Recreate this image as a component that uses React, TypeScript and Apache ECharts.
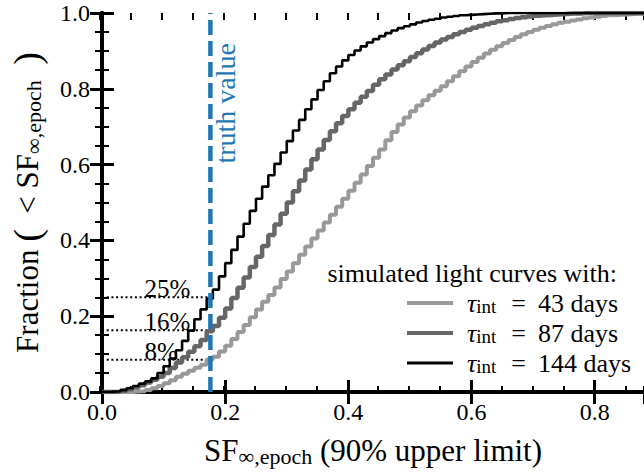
import React, { useEffect, useRef } from 'react';
import * as echarts from 'echarts';

// bin edges of the cumulative histograms (SF upper limit)
const binEdges = [
  0.00, 0.01, 0.02, 0.03, 0.04, 0.05, 0.06, 0.07, 0.08, 0.09,
  0.10, 0.11, 0.12, 0.13, 0.14, 0.15, 0.16, 0.17, 0.18, 0.19,
  0.20, 0.21, 0.22, 0.23, 0.24, 0.25, 0.26, 0.27, 0.28, 0.29,
  0.30, 0.31, 0.32, 0.33, 0.34, 0.35, 0.36, 0.37, 0.38, 0.39,
  0.40, 0.41, 0.42, 0.43, 0.44, 0.45, 0.46, 0.47, 0.48, 0.49,
  0.50, 0.51, 0.52, 0.53, 0.54, 0.55, 0.56, 0.57, 0.58, 0.59,
  0.60, 0.61, 0.62, 0.63, 0.64, 0.65, 0.66, 0.67, 0.68, 0.69,
  0.70, 0.71, 0.72, 0.73, 0.74, 0.75, 0.76, 0.77, 0.78, 0.79,
  0.80, 0.81, 0.82, 0.83, 0.84, 0.85, 0.86, 0.87, 0.88,
];

// tau_int = 43 days (light grey)
const cdf43 = [
  0.000, 0.000, 0.000, 0.000, 0.000, 0.001, 0.002, 0.005, 0.010, 0.016,
  0.023, 0.031, 0.040, 0.048, 0.056, 0.064, 0.072, 0.086, 0.093, 0.107,
  0.122, 0.140, 0.158, 0.177, 0.197, 0.218, 0.238, 0.256, 0.276, 0.298,
  0.318, 0.340, 0.362, 0.384, 0.405, 0.426, 0.447, 0.468, 0.489, 0.510,
  0.531, 0.552, 0.574, 0.596, 0.618, 0.640, 0.664, 0.686, 0.706, 0.724,
  0.741, 0.756, 0.770, 0.783, 0.795, 0.807, 0.820, 0.833, 0.846, 0.859,
  0.871, 0.882, 0.893, 0.903, 0.912, 0.921, 0.929, 0.937, 0.944, 0.950,
  0.956, 0.961, 0.966, 0.970, 0.974, 0.977, 0.980, 0.983, 0.986, 0.988,
  0.990, 0.992, 0.994, 0.995, 0.996, 0.997, 0.998, 0.998, 0.999,
];

// tau_int = 87 days (dark grey)
const cdf87 = [
  0.000, 0.000, 0.001, 0.003, 0.007, 0.012, 0.018, 0.025, 0.032, 0.040,
  0.050, 0.063, 0.078, 0.092, 0.106, 0.121, 0.137, 0.160, 0.174, 0.196,
  0.220, 0.248, 0.275, 0.302, 0.330, 0.357, 0.385, 0.414, 0.442, 0.470,
  0.500, 0.530, 0.558, 0.587, 0.614, 0.640, 0.665, 0.688, 0.709, 0.728,
  0.746, 0.763, 0.779, 0.794, 0.811, 0.825, 0.838, 0.851, 0.862, 0.873,
  0.884, 0.894, 0.904, 0.913, 0.922, 0.930, 0.937, 0.944, 0.950, 0.956,
  0.961, 0.966, 0.970, 0.974, 0.978, 0.981, 0.984, 0.987, 0.989, 0.991,
  0.993, 0.994, 0.995, 0.996, 0.997, 0.998, 0.999, 0.999, 1.000, 1.000,
  1.000, 1.000, 1.000, 1.000, 1.000, 1.000, 1.000, 1.000, 1.000,
];

// tau_int = 144 days (black)
const cdf144 = [
  0.000, 0.001, 0.002, 0.005, 0.010, 0.016, 0.022, 0.028, 0.036, 0.050,
  0.068, 0.088, 0.110, 0.135, 0.162, 0.192, 0.218, 0.246, 0.270, 0.305,
  0.340, 0.375, 0.410, 0.444, 0.478, 0.510, 0.542, 0.572, 0.602, 0.632,
  0.662, 0.690, 0.718, 0.746, 0.772, 0.797, 0.820, 0.841, 0.859, 0.875,
  0.889, 0.901, 0.912, 0.922, 0.931, 0.939, 0.947, 0.954, 0.960, 0.965,
  0.970, 0.975, 0.979, 0.982, 0.985, 0.988, 0.990, 0.992, 0.994, 0.995,
  0.996, 0.997, 0.998, 0.999, 0.999, 1.000, 1.000, 1.000, 1.000, 1.000,
  1.000, 1.000, 1.000, 1.000, 1.000, 1.000, 1.000, 1.000, 1.000, 1.000,
  1.000, 1.000, 1.000, 1.000, 1.000, 1.000, 1.000, 1.000, 1.000,
];

const seriesNames = ['43 days', '87 days', '144 days'];
const legendDays = ['43', '87', '144'];
const truthValue = 0.176;
const pctLevels = [0.25, 0.163, 0.085];
const pctTexts = ['25%', '16%', '8%'];
const xTickLabels = ['0.0', '0.2', '0.4', '0.6', '0.8'];
const yTickLabels = ['0.0', '0.2', '0.4', '0.6', '0.8', '1.0'];

const FONT = 'Liberation Serif';

export default function App() {
  const ref = useRef<HTMLDivElement>(null);

  useEffect(() => {
    if (!ref.current) return;
    const chart = echarts.init(ref.current, null, { renderer: 'svg' });

    const pts = (ys: number[]) => binEdges.map((x, i) => [x, ys[i]]);
    const fmt = (labels: string[]) => (v: number) => {
      const k = Math.round(v / 0.2);
      return Math.abs(v - k * 0.2) < 1e-6 && labels[k] !== undefined ? labels[k] : '';
    };

    const axisLine = { show: true, lineStyle: { color: '#000', width: 4 } };
    const majorTick = { show: true, inside: true, length: 12, lineStyle: { color: '#000', width: 3 } };
    const minorTickX = { show: true, inside: true, length: 7, lineStyle: { color: '#000', width: 2 } };
    const minorTickY = { show: true, splitNumber: 4, length: 7, lineStyle: { color: '#000', width: 2 } };
    const noLabel = { show: false };
    const noSplit = { show: false };
    const tickLabel = { fontFamily: FONT, fontSize: 24, color: '#000' };

    const nameRich = {
      m: { fontFamily: FONT, fontSize: 31, lineHeight: 34, color: '#000' },
      p: { fontFamily: FONT, fontSize: 38, lineHeight: 34, color: '#000' },
      s: { fontFamily: FONT, fontSize: 22, lineHeight: 19, verticalAlign: 'bottom', color: '#000' },
    };

    const legendRich = {
      t: { fontFamily: FONT, fontSize: 26, lineHeight: 26, fontStyle: 'italic', color: '#000', padding: [0, 0, 0, 9] },
      s: { fontFamily: FONT, fontSize: 19, lineHeight: 16, verticalAlign: 'bottom', color: '#000' },
      e: { fontFamily: FONT, fontSize: 26, lineHeight: 26, color: '#000', padding: [0, 12, 0, 15] },
      m: { fontFamily: FONT, fontSize: 26, lineHeight: 26, color: '#000' },
    };

    const colors = ['#999999', '#666666', '#000000'];
    const widths = [4, 4.5, 2.6];
    const legendHeights = [4, 4, 3];
    const rowCenters = [303, 333, 363];
    const cdfs = [cdf43, cdf87, cdf144];

    const cdfSeries = cdfs.map((d, i) => ({
      name: seriesNames[i],
      type: 'line',
      xAxisIndex: 0,
      yAxisIndex: 0,
      step: 'end',
      data: pts(d),
      symbol: 'none',
      color: colors[i],
      itemStyle: { color: colors[i] },
      lineStyle: { color: colors[i], width: widths[i] },
      silent: true,
      z: 3 + i,
    }));

    const pctLineSeries = pctLevels.map((lvl) => ({
      type: 'line',
      xAxisIndex: 0,
      yAxisIndex: 0,
      data: [[0, lvl], [truthValue, lvl]],
      symbol: 'none',
      lineStyle: { color: '#000', width: 2, type: [2, 2.7] },
      silent: true,
      z: 2,
    }));

    const option: any = {
      animation: false,
      backgroundColor: '#fff',
      textStyle: { fontFamily: FONT },
      grid: [
        { left: 100, top: 13, right: -6, bottom: 79 },
        { left: 100, top: 13, right: -6, bottom: 79 },
      ],
      xAxis: [
        {
          type: 'value', gridIndex: 0, position: 'bottom', min: 0, max: 0.88, interval: 0.2,
          axisLine, axisTick: majorTick, splitLine: noSplit,
          axisLabel: { ...tickLabel, margin: 8, formatter: fmt(xTickLabels), showMaxLabel: false },
          name: '{m|SF}{s|∞,epoch}{m| (90% upper limit)}',
          nameLocation: 'middle', nameGap: 41,
          nameTextStyle: { fontFamily: FONT, rich: nameRich },
        },
        {
          type: 'value', gridIndex: 0, position: 'top', min: 0, max: 0.88, interval: 0.2,
          axisLine, axisTick: majorTick, splitLine: noSplit, axisLabel: noLabel,
        },
        {
          type: 'value', gridIndex: 1, position: 'bottom', min: 0, max: 0.88, interval: 0.05,
          axisLine: { show: false }, axisTick: minorTickX, splitLine: noSplit, axisLabel: noLabel,
        },
        {
          type: 'value', gridIndex: 1, position: 'top', min: 0, max: 0.88, interval: 0.05,
          axisLine: { show: false }, axisTick: minorTickX, splitLine: noSplit, axisLabel: noLabel,
        },
      ],
      yAxis: [
        {
          type: 'value', gridIndex: 0, position: 'left', min: 0, max: 1, interval: 0.2,
          axisLine, axisTick: majorTick, minorTick: minorTickY, splitLine: noSplit, minorSplitLine: noSplit,
          axisLabel: { ...tickLabel, margin: 12, formatter: fmt(yTickLabels) },
          name: '{m|Fraction }{p|(}{m|  < SF}{s|∞,epoch}{m|  }{p|)}',
          nameLocation: 'middle', nameRotate: 90, nameGap: 58,
          nameTextStyle: { fontFamily: FONT, rich: nameRich },
        },
        {
          type: 'value', gridIndex: 0, position: 'right', min: 0, max: 1, interval: 0.2,
          axisLine, axisTick: majorTick, minorTick: minorTickY, splitLine: noSplit, minorSplitLine: noSplit,
          axisLabel: noLabel,
        },
        {
          type: 'value', gridIndex: 1, min: 0, max: 1, show: false,
        },
      ],
      legend: seriesNames.map((n, i) => ({
        data: [n],
        selectedMode: false,
        left: 407,
        top: rowCenters[i] - 13,
        padding: 0,
        icon: 'rect',
        itemWidth: 46,
        itemHeight: legendHeights[i],
        formatter: () => `{t|τ}{s|int}{e|=}{m|${legendDays[i]} days}`,
        textStyle: { fontFamily: FONT, fontSize: 26, color: '#000', rich: legendRich },
      })),
      series: [
        ...pctLineSeries,
        ...cdfSeries,
        {
          type: 'line',
          xAxisIndex: 0,
          yAxisIndex: 0,
          data: [[truthValue, 0], [truthValue, 1]],
          symbol: 'none',
          lineStyle: { color: '#1f77b4', width: 4.5, type: [15, 6] },
          silent: true,
          z: 8,
        },
      ],
    };

    chart.setOption(option);

    const toPx = (x: number, y: number) =>
      chart.convertToPixel({ xAxisIndex: 0, yAxisIndex: 0 }, [x, y]) as number[];
    const tp = toPx(truthValue, 1);
    const pctGraphics = pctLevels.map((lvl, i) => {
      const p = toPx(0.069, lvl);
      return {
        type: 'text',
        x: p[0],
        y: p[1] - 8.5,
        silent: true,
        z: 20,
        style: {
          text: pctTexts[i],
          fontFamily: FONT,
          fontSize: 25,
          fill: '#000',
          align: 'left',
          verticalAlign: 'middle',
        },
      };
    });

    chart.setOption({
      graphic: [
        ...pctGraphics,
        {
          type: 'text',
          x: tp[0] + 15,
          y: tp[1] + 30,
          rotation: Math.PI / 2,
          silent: true,
          style: {
            text: 'truth value',
            fontFamily: FONT,
            fontSize: 28,
            fill: '#1f77b4',
            align: 'right',
            verticalAlign: 'middle',
          },
        },
        {
          type: 'text',
          x: 617,
          y: 273,
          silent: true,
          style: {
            text: 'simulated light curves with:',
            fontFamily: FONT,
            fontSize: 26,
            fill: '#000',
            align: 'right',
            verticalAlign: 'middle',
          },
        },
      ],
    });

    return () => chart.dispose();
  }, []);

  return (
    <div
      ref={ref}
      style={{ position: 'fixed', left: 0, top: 0, width: 644, height: 472, background: '#fff' }}
    />
  );
}
